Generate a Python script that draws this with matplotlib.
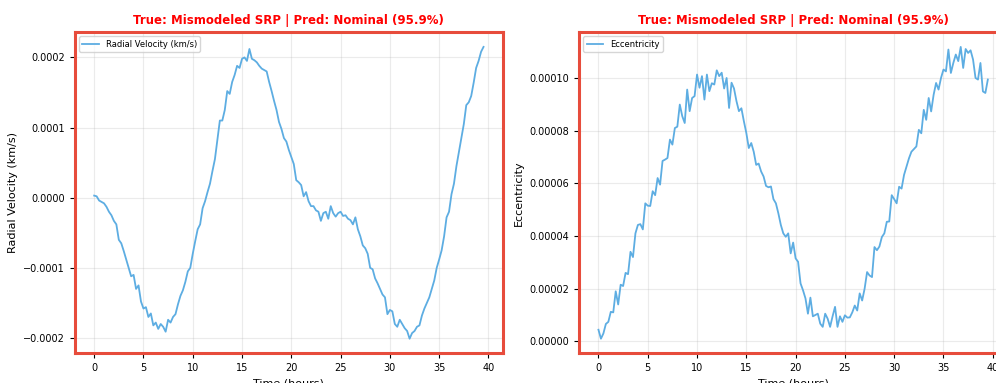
import numpy as np
import matplotlib
matplotlib.use('Agg')
import matplotlib.pyplot as plt

# time axis (hours), sampled every 15 min
time_h = np.arange(0, 39.51, 0.25)

# radial velocity, units of 1e-4 km/s
radial_vel = [
    0.03, 0.02, -0.04, -0.06, -0.08, -0.13, -0.20, -0.25, -0.33, -0.38,
    -0.60, -0.65, -0.76, -0.88, -1.00, -1.12, -1.10, -1.30, -1.25, -1.48,
    -1.58, -1.56, -1.70, -1.65, -1.82, -1.78, -1.87, -1.80, -1.84, -1.91,
    -1.74, -1.78, -1.70, -1.66, -1.52, -1.40, -1.32, -1.20, -1.05, -1.00,
    -0.80, -0.62, -0.45, -0.38, -0.15, -0.05, 0.08, 0.20, 0.38, 0.55,
    0.82, 1.10, 1.10, 1.25, 1.52, 1.48, 1.65, 1.75, 1.88, 1.85,
    1.98, 2.00, 1.95, 2.12, 1.98, 1.96, 1.93, 1.88, 1.84, 1.82,
    1.80, 1.65, 1.52, 1.38, 1.25, 1.08, 0.98, 0.85, 0.80, 0.68,
    0.58, 0.48, 0.25, 0.22, 0.18, 0.02, 0.08, -0.05, -0.12, -0.12,
    -0.18, -0.20, -0.33, -0.22, -0.20, -0.30, -0.12, -0.22, -0.27, -0.22,
    -0.20, -0.26, -0.25, -0.30, -0.32, -0.38, -0.28, -0.45, -0.55, -0.68,
    -0.72, -0.80, -1.00, -1.02, -1.15, -1.22, -1.30, -1.38, -1.42, -1.66,
    -1.60, -1.62, -1.80, -1.84, -1.74, -1.80, -1.86, -1.90, -2.01, -1.93,
    -1.90, -1.84, -1.82, -1.68, -1.58, -1.50, -1.42, -1.30, -1.18, -1.00,
    -0.88, -0.75, -0.55, -0.28, -0.20, 0.05, 0.20, 0.45, 0.65, 0.85,
    1.05, 1.32, 1.36, 1.45, 1.64, 1.85, 1.95, 2.08, 2.15,
]

# eccentricity, units of 1e-5
eccentricity = [
    0.44, 0.10, 0.30, 0.66, 0.74, 1.12, 1.10, 1.90, 1.40, 2.15,
    2.10, 2.60, 2.55, 3.40, 3.20, 4.10, 4.42, 4.45, 4.25, 5.24,
    5.15, 5.14, 5.70, 5.55, 6.20, 5.95, 6.85, 6.90, 6.96, 7.66,
    7.47, 8.10, 8.15, 8.99, 8.55, 8.29, 9.56, 8.74, 9.24, 9.31,
    10.13, 9.63, 10.07, 9.18, 10.13, 9.50, 9.80, 9.75, 10.29, 10.07,
    10.20, 9.60, 10.00, 8.86, 9.82, 9.60, 9.12, 8.74, 8.85, 8.36,
    7.91, 7.34, 7.53, 7.20, 6.70, 6.75, 6.45, 6.26, 5.90, 5.85,
    5.88, 5.40, 5.24, 4.86, 4.42, 4.10, 3.97, 4.10, 3.34, 3.75,
    3.15, 3.02, 2.20, 1.94, 1.63, 1.05, 1.66, 0.95, 1.00, 1.05,
    0.67, 0.55, 1.05, 0.86, 0.55, 0.95, 1.31, 0.55, 0.95, 0.74,
    0.99, 0.90, 0.91, 1.10, 1.36, 1.17, 1.82, 1.55, 2.00, 2.63,
    2.50, 2.44, 3.58, 3.46, 3.60, 3.96, 4.10, 4.54, 4.55, 5.55,
    5.40, 5.24, 5.87, 5.80, 6.32, 6.63, 6.95, 7.20, 7.30, 7.40,
    8.03, 7.90, 8.79, 8.41, 9.24, 8.73, 9.36, 9.81, 9.56, 10.00,
    10.32, 10.25, 11.08, 10.19, 10.57, 10.89, 10.64, 11.18, 10.38, 11.10,
    10.95, 11.05, 10.70, 10.00, 9.94, 10.57, 9.49, 9.43, 9.94,
]

radial_vel = np.array(radial_vel) * 1e-4
eccentricity = np.array(eccentricity) * 1e-5

title = 'True: Mismodeled SRP | Pred: Nominal (95.9%)'
line_color = '#5dade2'
border_color = '#e74c3c'

W, H = 996, 383
fig = plt.figure(figsize=(W / 100, H / 100), dpi=100)

# axes boxes in pixels; the right panel runs past the edge like the source crop
ax_w, ax_h = 428.3, 321.0
ax1 = fig.add_axes([74.7 / W, (H - 353.3) / H, ax_w / W, ax_h / H])
ax2 = fig.add_axes([579.0 / W, (H - 353.3) / H, ax_w / W, ax_h / H])

panels = [
    (ax1, radial_vel, 'Radial Velocity (km/s)', 'Radial Velocity (km/s)'),
    (ax2, eccentricity, 'Eccentricity', 'Eccentricity'),
]

for ax, y, lab, ylab in panels:
    ax.plot(time_h, y, color=line_color, linewidth=1.3, label=lab)
    ax.set_title(title, color='red', fontweight='bold', fontsize=8.5, pad=6)
    ax.set_xlabel('Time (hours)', fontsize=8)
    ax.set_ylabel(ylab, fontsize=8)
    ax.grid(True, alpha=0.25)
    ax.tick_params(labelsize=7)
    ax.legend(loc='upper left', fontsize=6)
    for sp in ax.spines.values():
        sp.set_color(border_color)
        sp.set_linewidth(2.2)

ax1.set_yticks([-0.0002, -0.0001, 0.0, 0.0001, 0.0002])
ax1.set_yticklabels(['\u22120.0002', '\u22120.0001', '0.0000', '0.0001', '0.0002'])
ax2.set_yticks([0, 2e-5, 4e-5, 6e-5, 8e-5, 1e-4])
ax2.set_yticklabels(['0.00000', '0.00002', '0.00004', '0.00006', '0.00008', '0.00010'])

fig.savefig('out.png', dpi=100)
